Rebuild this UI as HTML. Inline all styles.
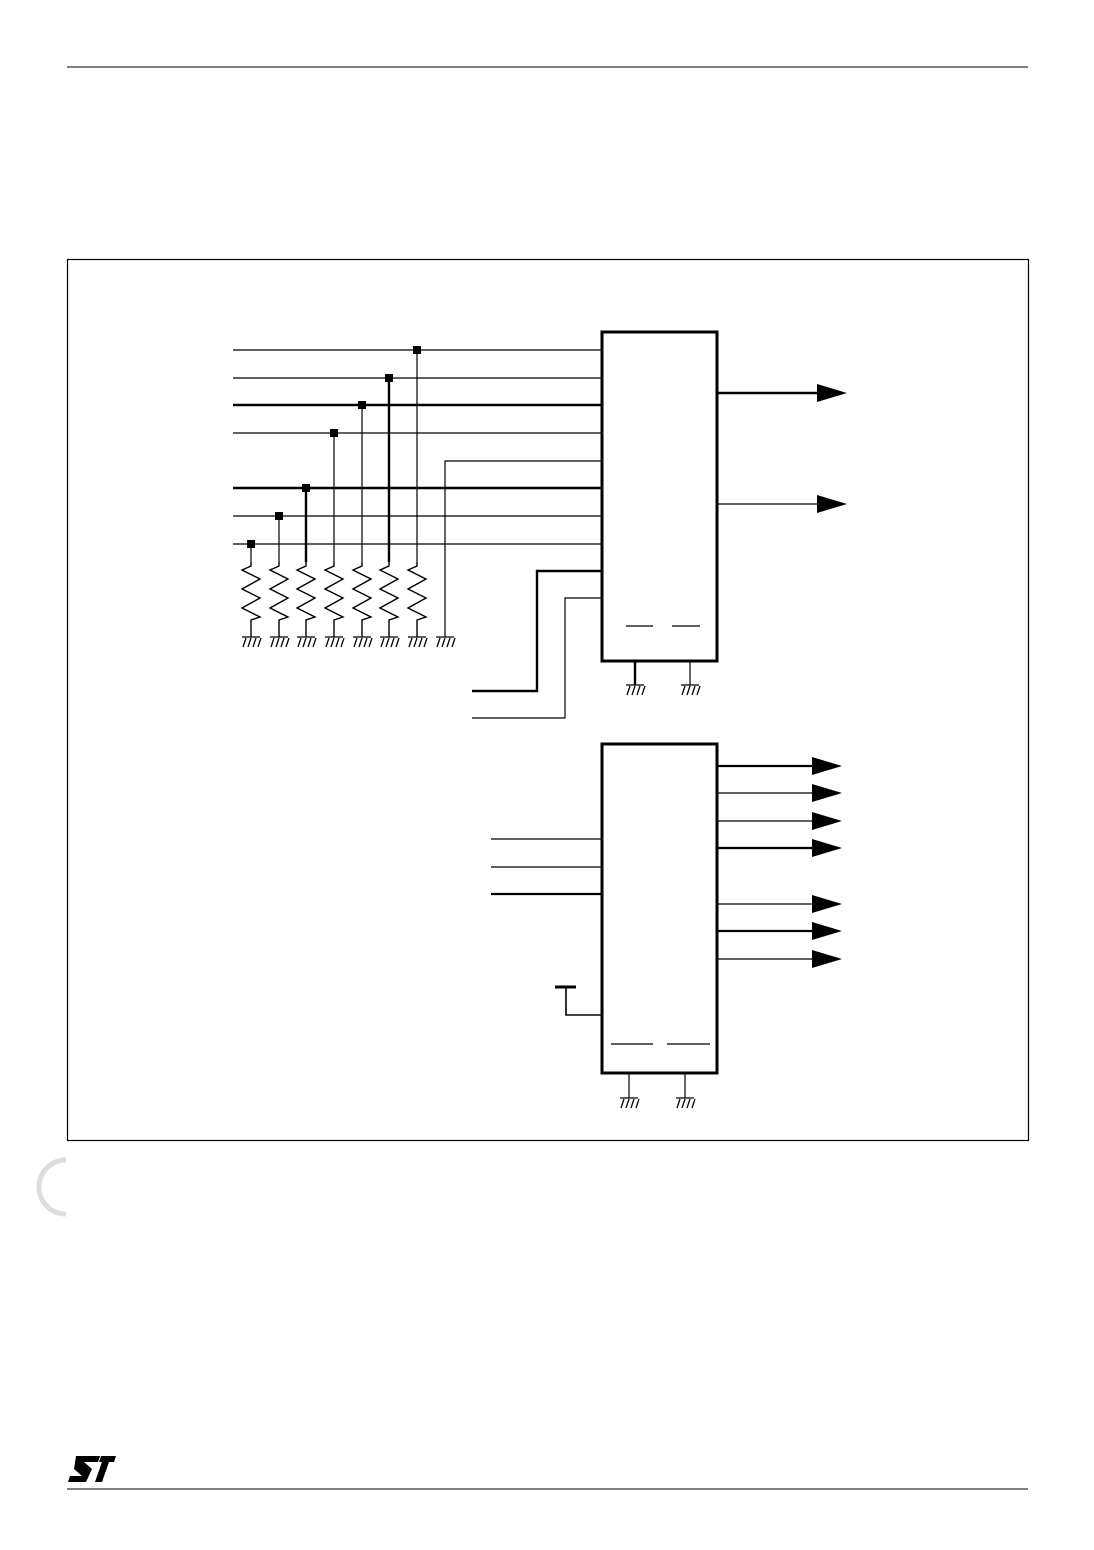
<!DOCTYPE html>
<html><head><meta charset="utf-8"><style>
html,body{margin:0;padding:0;background:#fff;}
svg{display:block;}
</style></head><body>
<svg width="1094" height="1550" viewBox="0 0 1094 1550" xmlns="http://www.w3.org/2000/svg">
<defs>
<g id="gnd" stroke="#000" stroke-width="1.3" fill="none">
<line x1="-9" y1="0" x2="9" y2="0"/>
<line x1="-5" y1="1" x2="-8" y2="10"/>
<line x1="0" y1="1" x2="-3" y2="10"/>
<line x1="5" y1="1" x2="2" y2="10"/>
<line x1="10" y1="1" x2="7" y2="10"/>
</g>
<g id="res" fill="none" stroke="#000" stroke-width="1.4">
<polyline points="0,0 0,4 -9,8 9,17 -9,27 9,36 -9,46 9,55 0,58 0,75"/>
</g>
<polygon id="arr" points="0,-9 30,0 0,9" fill="#000"/>
</defs>
<line x1="67" y1="67" x2="1028" y2="67" stroke="#000" stroke-width="1"/>
<line x1="67" y1="1489" x2="1028" y2="1489" stroke="#000" stroke-width="1"/>
<rect x="67.5" y="259.5" width="961" height="881" fill="none" stroke="#000" stroke-width="1.2"/>
<path d="M66 1160 A22 22 0 1 0 66 1214" fill="none" stroke="#ddd" stroke-width="5"/>
<!-- ST logo -->
<g fill="#000">
<polygon points="76,1456 100,1456 98,1462 84,1462 92,1469 86,1482 68,1482 70,1476 82,1476 74,1469"/>
<polygon points="101,1456 116,1456 114,1462 109,1462 102,1482 95,1482 102,1462 99,1462"/>
</g>
<!-- top block -->
<g stroke="#000" fill="none">
<g stroke-width="1.2">
<line x1="233" y1="350" x2="601" y2="350"/>
<line x1="233" y1="378" x2="601" y2="378"/>
<line x1="233" y1="433" x2="601" y2="433"/>
<polyline points="601,461 445,461 445,637"/>
<line x1="233" y1="516" x2="601" y2="516"/>
<line x1="233" y1="544" x2="601" y2="544"/>
<polyline points="601,598 565,598 565,718 472,718"/>
<line x1="251" y1="544" x2="251" y2="562"/>
<line x1="279" y1="516" x2="279" y2="562"/>
<line x1="334" y1="433" x2="334" y2="562"/>
<line x1="362" y1="405" x2="362" y2="562"/>
<line x1="417" y1="350" x2="417" y2="562"/>
<line x1="717" y1="504" x2="818" y2="504"/>
<line x1="626" y1="626" x2="653" y2="626"/>
<line x1="672" y1="626" x2="700" y2="626"/>
<line x1="690" y1="661" x2="690" y2="685"/>
</g>
<g stroke-width="2.4">
<line x1="233" y1="405" x2="601" y2="405"/>
<line x1="233" y1="488" x2="601" y2="488"/>
<line x1="306" y1="488" x2="306" y2="562"/>
<line x1="389" y1="378" x2="389" y2="562"/>
<polyline points="601,571 537,571 537,691 472,691"/>
<line x1="717" y1="393" x2="818" y2="393"/>
<line x1="635" y1="661" x2="635" y2="685"/>
</g>
<rect x="602" y="332" width="115" height="329" stroke-width="3"/>
</g>
<g fill="#000">
<rect x="413" y="346" width="8" height="8"/>
<rect x="385" y="374" width="8" height="8"/>
<rect x="358" y="401" width="8" height="8"/>
<rect x="330" y="429" width="8" height="8"/>
<rect x="302" y="484" width="8" height="8"/>
<rect x="275" y="512" width="8" height="8"/>
<rect x="247" y="540" width="8" height="8"/>
</g>
<use href="#res" x="251" y="562"/><use href="#res" x="279" y="562"/><use href="#res" x="306" y="562"/>
<use href="#res" x="334" y="562"/><use href="#res" x="362" y="562"/><use href="#res" x="389" y="562"/>
<use href="#res" x="417" y="562"/>
<use href="#gnd" x="251" y="637"/><use href="#gnd" x="279" y="637"/><use href="#gnd" x="306" y="637"/>
<use href="#gnd" x="334" y="637"/><use href="#gnd" x="362" y="637"/><use href="#gnd" x="389" y="637"/>
<use href="#gnd" x="417" y="637"/><use href="#gnd" x="445" y="637"/>
<use href="#gnd" x="635" y="685"/><use href="#gnd" x="690" y="685"/>
<use href="#arr" x="817" y="393"/><use href="#arr" x="817" y="504"/>
<!-- bottom block -->
<g stroke="#000" fill="none">
<g stroke-width="1.2">
<line x1="491" y1="839" x2="602" y2="839"/>
<line x1="491" y1="867" x2="602" y2="867"/>
<line x1="717" y1="793" x2="812" y2="793"/>
<line x1="717" y1="821" x2="812" y2="821"/>
<line x1="717" y1="904" x2="812" y2="904"/>
<line x1="717" y1="959" x2="812" y2="959"/>
<line x1="611" y1="1044" x2="653" y2="1044"/>
<line x1="667" y1="1044" x2="710" y2="1044"/>
<line x1="629" y1="1073" x2="629" y2="1098"/>
<line x1="685" y1="1073" x2="685" y2="1098"/>
</g>
<g stroke-width="2.2">
<line x1="491" y1="894" x2="602" y2="894"/>
<line x1="717" y1="766" x2="812" y2="766"/>
<line x1="717" y1="848" x2="812" y2="848"/>
<line x1="717" y1="931" x2="812" y2="931"/>
<polyline points="566,987 566,1015 602,1015" stroke-width="1.6"/>
<line x1="555" y1="987" x2="576" y2="987" stroke-width="3"/>
</g>
<rect x="602" y="744" width="115" height="329" stroke-width="3"/>
</g>
<use href="#arr" x="812" y="766"/><use href="#arr" x="812" y="793"/><use href="#arr" x="812" y="821"/>
<use href="#arr" x="812" y="848"/><use href="#arr" x="812" y="904"/><use href="#arr" x="812" y="931"/>
<use href="#arr" x="812" y="959"/>
<use href="#gnd" x="629" y="1098"/><use href="#gnd" x="685" y="1098"/>
</svg>
</body></html>
